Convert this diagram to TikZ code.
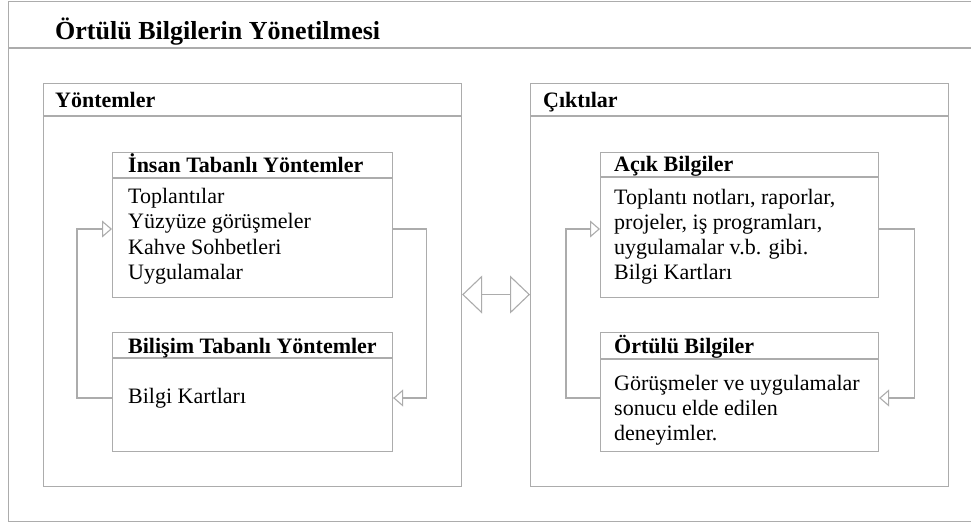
\documentclass[tikz,border=0pt]{standalone}
\usepackage{fontspec}
\setmainfont{Liberation Serif}
\usetikzlibrary{arrows.meta,calc}
\definecolor{linegray}{RGB}{172,172,172}
\begin{document}
\begin{tikzpicture}[x=1pt,y=-1pt,
  frame/.style={draw=linegray,line width=1.1pt},
  box/.style={frame,fill=white,inner sep=0pt,anchor=north west},
  titletext/.style={font=\fontsize{26}{30}\bfseries\selectfont,anchor=base west,inner sep=0pt},
  headtext/.style={font=\fontsize{22}{26}\bfseries\selectfont,anchor=base west,inner sep=0pt},
  bodytext/.style={font=\fontsize{22}{26}\selectfont,anchor=base west,inner sep=0pt},
  conn/.style={draw=linegray,line width=1.1pt,-{Triangle[open,length=10pt,width=17pt]}},
  dbl/.style={draw=linegray,line width=1.1pt,
    {Triangle[open,length=20pt,width=38pt]}-{Triangle[open,length=20pt,width=38pt]}}]

\useasboundingbox (0,0) rectangle (971,524);
\clip (0,0) rectangle (971,524);

% outer frame with title band
\node[box,minimum width=990pt,minimum height=520pt] (outer) at (8,1) {};
\draw[frame] (8,48) -- (998,48);
\node[titletext] (title) at (55,40) {Örtülü Bilgilerin Yönetilmesi};

% two package frames
\node[box,minimum width=418pt,minimum height=403pt] (yont) at (43,83) {};
\draw[frame] (43,116) -- (461,116);
\node[headtext] (yontlbl) at (55,108) {Yöntemler};

\node[box,minimum width=418pt,minimum height=403pt] (cikt) at (530,83) {};
\draw[frame] (530,116) -- (948,116);
\node[headtext] (ciktlbl) at (543,108) {Çıktılar};

% left column classes
\node[box,minimum width=280pt,minimum height=145pt] (insan) at (112,152) {};
\draw[frame] (112,178) -- (392,178);
\node[headtext] (insanh) at (128,172) {İnsan Tabanlı Yöntemler};
\node[bodytext] (i1) at (128,203) {Toplantılar};
\node[bodytext] (i2) at (128,228) {Yüzyüze görüşmeler};
\node[bodytext] (i3) at (128,254) {Kahve Sohbetleri};
\node[bodytext] (i4) at (128,279) {Uygulamalar};

\node[box,minimum width=280pt,minimum height=119pt] (bilisim) at (112,332) {};
\draw[frame] (112,358) -- (392,358);
\node[headtext] (bilisimh) at (128,353) {Bilişim Tabanlı Yöntemler};
\node[bodytext] (b1) at (128,403) {Bilgi Kartları};

% right column classes
\node[box,minimum width=278pt,minimum height=145pt] (acik) at (600,152) {};
\draw[frame] (600,177) -- (878,177);
\node[headtext] (acikh) at (614,171) {Açık Bilgiler};
\node[bodytext] (a1) at (614,204) {Toplantı notları, raporlar,};
\node[bodytext] (a2) at (614,229) {projeler, iş programları,};
\node[bodytext] (a3) at (614,254) {uygulamalar v.b. gibi.};
\node[bodytext] (a4) at (614,279) {Bilgi Kartları};

\node[box,minimum width=278pt,minimum height=119pt] (ortulu) at (600,332) {};
\draw[frame] (600,359) -- (878,359);
\node[headtext] (ortuluh) at (614,353) {Örtülü Bilgiler};
\node[bodytext] (o1) at (614,390) {Görüşmeler ve uygulamalar};
\node[bodytext] (o2) at (614,415) {sonucu elde edilen};
\node[bodytext] (o3) at (614,440) {deneyimler.};

% connectors between classes
\draw[conn] ($(bilisim.north west)+(0,66)$) -- ++(-35,0) |- ($(insan.north west)+(0,77)$);
\draw[conn] ($(insan.north east)+(0,77)$) -- ++(33,0) |- ($(bilisim.north east)+(0,66)$);
\draw[conn] ($(ortulu.north west)+(0,66)$) -- ++(-34,0) |- ($(acik.north west)+(0,77)$);
\draw[conn] ($(acik.north east)+(0,77)$) -- ++(35,0) |- ($(ortulu.north east)+(0,66)$);

% link between the two frames
\draw[dbl] ($(yont.east)+(0,9.5)$) -- ($(cikt.west)+(0,9.5)$);
\end{tikzpicture}
\end{document}
